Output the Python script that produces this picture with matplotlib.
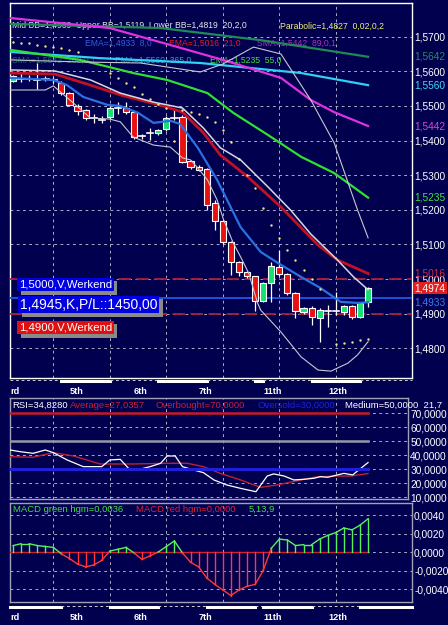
import numpy as np
import matplotlib
matplotlib.use("Agg")
import matplotlib.pyplot as plt
import matplotlib.transforms as mtransforms
import matplotlib.patheffects as pe
from matplotlib.patches import Rectangle
from matplotlib.lines import Line2D

plt.rcParams['font.family'] = ['Liberation Sans', 'DejaVu Sans']
plt.rcParams['lines.scale_dashes'] = False

# ---------------- data ----------------
opens  = [1.5572, 1.5578, 1.5580, 1.5575, 1.5578, 1.5576, 1.5565, 1.5537, 1.5500, 1.5488,
          1.5466, 1.5460, 1.5468, 1.5494, 1.5494, 1.5482, 1.5413, 1.5422, 1.5422, 1.5433,
          1.5465, 1.5468, 1.5341, 1.5324, 1.5318, 1.5219, 1.5168, 1.5107, 1.5049, 1.5020,
          1.5008, 1.4936, 1.4988, 1.5034, 1.5014, 1.4960, 1.4905, 1.4916, 1.4887, 1.4910,
          1.4910, 1.4905, 1.4922, 1.4890, 1.4934]
highs  = [1.5590, 1.5595, 1.5588, 1.5624, 1.5586, 1.5584, 1.5572, 1.5540, 1.5505, 1.5492,
          1.5478, 1.5470, 1.5500, 1.5512, 1.5510, 1.5486, 1.5420, 1.5436, 1.5432, 1.5470,
          1.5488, 1.5475, 1.5344, 1.5330, 1.5320, 1.5228, 1.5170, 1.5110, 1.5052, 1.5024,
          1.5010, 1.4992, 1.5049, 1.5084, 1.5016, 1.4962, 1.4920, 1.4922, 1.4916, 1.4925,
          1.4963, 1.4925, 1.4925, 1.4934, 1.4976]
lows   = [1.5569, 1.5569, 1.5572, 1.5550, 1.5572, 1.5566, 1.5532, 1.5500, 1.5474, 1.5460,
          1.5452, 1.5450, 1.5462, 1.5478, 1.5478, 1.5404, 1.5404, 1.5402, 1.5416, 1.5428,
          1.5459, 1.5336, 1.5318, 1.5312, 1.5199, 1.5142, 1.5100, 1.5011, 1.5010, 1.5002,
          1.4908, 1.4934, 1.4934, 1.5010, 1.4955, 1.4887, 1.4900, 1.4867, 1.4818, 1.4862,
          1.4895, 1.4895, 1.4885, 1.4887, 1.4920]
closes = [1.5586, 1.5579, 1.5578, 1.5576, 1.5577, 1.5575, 1.5537, 1.5503, 1.5485, 1.5465,
          1.5465, 1.5459, 1.5494, 1.5493, 1.5482, 1.5410, 1.5412, 1.5421, 1.5430, 1.5465,
          1.5464, 1.5338, 1.5324, 1.5315, 1.5214, 1.5168, 1.5107, 1.5049, 1.5020, 1.5008,
          1.4936, 1.4988, 1.5037, 1.5014, 1.4960, 1.4908, 1.4916, 1.4890, 1.4910, 1.4909,
          1.4909, 1.4922, 1.4890, 1.4931, 1.4974]

nan = np.nan
sar = [1.5685, 1.5682, 1.5682, 1.5676, 1.5673, 1.5670, 1.5667, 1.5662, 1.5656, nan,
       nan, nan, 1.5595, 1.5581, 1.5566, 1.5555, 1.5534, 1.5520, 1.5506, 1.5494,
       1.5399, 1.5488, 1.5482, 1.5477, 1.5468, 1.5454, 1.5430, 1.5396, 1.5347, 1.5301,
       1.5263, 1.5205, 1.5156, 1.5119, 1.5084, 1.5055, 1.5026, 1.5000, 1.4971, nan,
       1.4812, 1.4815, 1.4819, 1.4823, 1.4827]

ema8_x = [-0.37, 5.0, 6.7, 8.7, 11.7, 13.3, 15.5, 17.4, 19.5, 20.7, 22.9, 25.3, 28.2, 30.7,
          33.2, 35.7, 38.1, 40.6, 42.7, 44.0]
ema8_y = [1.5581, 1.5575, 1.5560, 1.5526, 1.5503, 1.5500, 1.5480, 1.5451, 1.5457, 1.5448,
          1.5379, 1.5286, 1.5150, 1.5078, 1.5041, 1.5006, 1.4974, 1.4934, 1.4931, 1.4933]

ema21_x = [-0.37, 5.2, 9.6, 13.3, 18.6, 21.0, 23.6, 25.7, 29.1, 33.2, 37.8, 40.2, 44.0]
ema21_y = [1.5595, 1.5592, 1.5560, 1.5532, 1.5500, 1.5482, 1.5422, 1.5358, 1.5295, 1.5208,
           1.5098, 1.5055, 1.5016]

bbmid_x = [-0.37, 5.2, 9.6, 13.3, 17.4, 21.0, 23.6, 25.7, 28.2, 31.6, 34.4, 36.9, 40.2, 42.2, 44.0]
bbmid_y = [1.5604, 1.5601, 1.5575, 1.5537, 1.5511, 1.5494, 1.5436, 1.5379, 1.5344, 1.5266,
           1.5199, 1.5130, 1.5055, 1.5006, 1.4969]

bbup_x = [-0.37, 8.3, 15.8, 23.2, 26.0, 29.8, 33.2, 36.9, 39.8, 42.7, 44.0]
bbup_y = [1.5633, 1.5627, 1.5624, 1.5598, 1.5621, 1.5670, 1.5650, 1.5517, 1.5393, 1.5199, 1.5119]

bblow_x = [-0.37, 4.0, 5.0, 7.5, 9.6, 12.0, 13.3, 14.9, 17.4, 19.5, 21.0, 22.0, 22.9, 24.1,
           25.3, 26.1, 27.3, 28.4, 29.2, 30.3, 30.7, 33.2, 35.7, 37.8, 39.4, 41.5, 42.7, 44.0]
bblow_y = [1.5546, 1.5546, 1.5558, 1.5508, 1.5465, 1.5462, 1.5454, 1.5410, 1.5387, 1.5381,
           1.5350, 1.5344, 1.5321, 1.5286, 1.5228, 1.5171, 1.5104, 1.5055, 1.5017, 1.4931,
           1.4910, 1.4847, 1.4775, 1.4737, 1.4734, 1.4757, 1.4781, 1.4819]

sma89_x = [-0.37, 12.0, 19.5, 26.0, 33.2, 36.9, 39.8, 44.0]
sma89_y = [1.5754, 1.5725, 1.5676, 1.5633, 1.5581, 1.5517, 1.5482, 1.5442]

sma200_x = [-0.37, 18.3, 30.7, 44.0]
sma200_y = [1.5737, 1.5725, 1.5690, 1.5642]

ema365_x = [-0.37, 10.8, 23.2, 35.7, 44.0]
ema365_y = [1.5656, 1.5638, 1.5624, 1.5595, 1.5560]

ema55_x = [-0.37, 8.3, 14.9, 19.1, 24.1, 27.3, 31.6, 35.7, 39.8, 44.0]
ema55_y = [1.5662, 1.5633, 1.5595, 1.5575, 1.5537, 1.5480, 1.5416, 1.5353, 1.5306, 1.5235]

rsi_x = [-0.37, 0.87, 2.5, 4.0, 5.0, 6.7, 8.7, 11.0, 12.0, 13.3, 14.5, 15.8, 17.0, 18.3,
         19.1, 20.1, 21.0, 22.4, 23.6, 24.9, 26.5, 28.2, 30.1, 31.5, 32.3, 33.6, 34.8,
         36.1, 37.3, 38.1, 39.0, 41.0, 42.1, 43.1, 44.0]
rsi_y = [43.8, 42.6, 41.4, 43.8, 41.9, 36.7, 31.9, 31.9, 36.7, 37.1, 29.5, 30.2, 31.9, 34.3,
         39.5, 39.5, 31.9, 29.5, 27.6, 22.4, 18.8, 16.4, 14.0, 25.2, 26.7, 25.2, 22.4,
         22.9, 23.6, 24.8, 24.3, 27.1, 26.0, 30.7, 34.8]

rsiavg_x = [-0.37, 2.5, 5.0, 7.5, 10.8, 14.9, 19.1, 21.6, 23.6, 25.7, 28.2, 30.7, 32.7,
            35.7, 37.3, 39.8, 41.9, 44.0]
rsiavg_y = [39.0, 38.6, 41.9, 39.5, 33.8, 33.8, 34.3, 34.3, 31.9, 27.1, 22.4, 17.1, 18.8,
            22.4, 24.3, 25.2, 25.2, 27.0]

macd_hist = [0.0007, 0.0009, 0.0009, 0.0007, 0.0006, 0.0005, -0.0002, -0.0007, -0.0013,
             -0.0016, -0.0014, -0.0009, 0.0001, 0.0003, 0.0005, -0.0001, -0.0008, -0.0004,
             0.0000, 0.0006, 0.0012, -0.0001, -0.0011, -0.0016, -0.0028, -0.0035, -0.0041,
             -0.0047, -0.0041, -0.0037, -0.0035, -0.0020, 0.0004, 0.0014, 0.0013, 0.0007,
             0.0008, 0.0008, 0.0014, 0.0018, 0.0021, 0.0026, 0.0024, 0.0029, 0.0036]

price_ticks = [1.48, 1.49, 1.50, 1.51, 1.52, 1.53, 1.54, 1.55, 1.56, 1.57]
rsi_ticks = [10, 20, 30, 40, 50, 60, 70]
macd_ticks = [-0.004, -0.002, 0.0, 0.002, 0.004]
date_labels = ['rd', '5th', '6th', '7th', '11th', '12th']
date_pos = [-0.37, 7.9, 15.8, 23.9, 32.2, 40.3]
grid_x = [5, 12, 19, 26, 33, 40]
day_bounds = [-0.37, 6, 12, 18, 24, 30, 31, 37, 43, 49.44]

order_levels = [1.5000, 1.4900]
entry_level = 1.4945

# ---------------- figure ----------------
W, H = 448, 625
BG = '#00004f'
fig = plt.figure(figsize=(W / 100, H / 100), dpi=100, facecolor=BG)


def pax(l, t, r, b):
    return fig.add_axes([l / W, 1 - b / H, (r - l) / W, (b - t) / H])


GRID = dict(color='#c8c8d8', lw=0.6, ls=(0, (2, 2.5)))


def style(ax, edge):
    ax.set_facecolor(BG)
    for s in ax.spines.values():
        s.set_color(edge)
        s.set_linewidth(1.0)
    ax.yaxis.tick_right()
    ax.tick_params(axis='both', length=0, colors='white', labelsize=7.3, pad=1.5)
    ax.set_xticks(grid_x)
    ax.set_xticklabels([])
    ax.grid(True, **GRID)
    ax.set_axisbelow(True)


def fmt(v, d=4):
    return f"{v:.{d}f}".replace('.', ',')


# ---------- main panel ----------
ax = pax(10, 3, 412, 378)
style(ax, 'white')
ax.set_xlim(-0.372, 49.44)
ax.set_ylim(1.47141, 1.57973)
ax.set_yticks(price_ticks)
ax.set_yticklabels([fmt(v) for v in price_ticks])

# order lines
for lv in order_levels:
    ax.axhline(lv, color='#a8203c', lw=1.3, ls=(0, (9, 4)), zorder=3)
ax.axhline(entry_level, color='#2050d8', lw=1.4, zorder=3)

# candles
for i, (o, h, l, c) in enumerate(zip(opens, highs, lows, closes)):
    ax.plot([i, i], [l, h], color='white', lw=0.9, zorder=4, solid_capstyle='butt')
    if abs(c - o) < 0.00025:
        ax.plot([i - 0.4, i + 0.4], [c, c], color='white', lw=1.2, zorder=5)
    else:
        col = '#18e070' if c > o else '#e81010'
        ax.add_patch(Rectangle((i - 0.38, min(o, c)), 0.76, abs(c - o), facecolor=col,
                               edgecolor='white', lw=0.8, zorder=5))

# indicators
ax.plot(sma200_x, sma200_y, color='#1f8a55', lw=1.6, zorder=6)
ax.plot(ema365_x, ema365_y, color='#30d0f0', lw=1.6, zorder=6)
ax.plot(ema55_x, ema55_y, color='#30e030', lw=1.6, zorder=6)
ax.plot(sma89_x, sma89_y, color='#e030e0', lw=1.6, zorder=6)
ax.plot(bbup_x, bbup_y, color='#c8c8d0', lw=0.8, zorder=6)
ax.plot(bblow_x, bblow_y, color='#c8c8d0', lw=0.8, zorder=6)
ax.plot(ema21_x, ema21_y, color='#c41024', lw=2.0, zorder=6)
ax.plot(bbmid_x, bbmid_y, color='#d8d8e0', lw=1.1, zorder=6)
ax.plot(ema8_x, ema8_y, color='#2a70e0', lw=1.6, zorder=6)
ax.scatter(np.arange(len(sar)), sar, s=3, color='#f0e68c', zorder=7, linewidths=0)

# header texts (axes pixel offsets)
def htxt(xpx, ypx, s, col, fs=6.2):
    ax.text((xpx - 10) / 402, 1 - (ypx - 3) / 375, s, transform=ax.transAxes, color=col,
            fontsize=fs, va='center', ha='left', zorder=2)

htxt(12, 26, 'Mid BB=1,4969  Upper BB=1,5119  Lower BB=1,4819  20,2,0', '#e8e8e8')
htxt(280, 26, 'Parabolic=1,4827  0,02,0,2', '#f0f070')
htxt(85, 43, 'EMA=1,4933  8,0', '#3060e0')
htxt(169, 43, 'EMA=1,5016  21,0', '#e02020')
htxt(257, 43, 'SMA=1,5442  89,0,1', '#b030c0')
htxt(12, 60, 'SMA=1,5642  200,0,1', '#1e6a60')
htxt(115, 60, 'EMA=1,5560  365,0', '#20a0c8')
htxt(210, 60, 'EMA=1,5235  55,0', '#40e040')

# right colored price tags
ytr = ax.get_yaxis_transform()
tags = [(1.5642, '#2a8a5a'), (1.5560, '#40d8f8'), (1.5442, '#e040e0'),
        (1.5235, '#40e040'), (1.5016, '#c83040'), (1.4933, '#3a78f0')]
for v, c in tags:
    ax.text(1.005, v, fmt(v), transform=ytr, color=c, fontsize=7.3, va='center', ha='left',
            clip_on=False, zorder=10)
ax.text(1.006, 1.4974, fmt(1.4974), transform=ytr, color='white', fontsize=7.3, va='center',
        ha='left', clip_on=False, zorder=11,
        bbox=dict(facecolor='#e02020', edgecolor='none', pad=1.0))

# left order tags with drop shadow
def tag(xpx, ypx, s, fc, fs):
    t = fig.text(xpx / W, 1 - ypx / H, s, color='white', fontsize=fs, va='center', ha='left',
                 bbox=dict(facecolor=fc, edgecolor='none', pad=1.2), zorder=21)
    t.get_bbox_patch().set_path_effects([
        pe.SimplePatchShadow(offset=(2.4, -2.4), shadow_rgbFace='#8a8a8a', alpha=1.0),
        pe.Normal()])

tag(19, 284.5, '1,5000,V,Werkend', '#0000e0', 8.2)
tag(20, 304.5, '1,4945,K,P/L::1450,00', '#0000e0', 10)
tag(19, 327.5, '1,4900,V,Werkend', '#e01010', 8.2)

# ---------- RSI panel ----------
ax2 = pax(10, 398, 408, 499)
style(ax2, '#a0a0b8')
ax2.set_xlim(-0.372, 48.95)
ax2.set_ylim(8.8, 80.9)
ax2.set_yticks(rsi_ticks)
ax2.set_yticklabels([fmt(v) for v in rsi_ticks])
ax2.plot([-0.372, 44], [70, 70], color='#c81828', lw=1.8, zorder=3)
ax2.plot([-0.372, 44], [50, 50], color='#9898a8', lw=1.8, zorder=3)
ax2.plot(rsiavg_x, rsiavg_y, color='#c02030', lw=1.0, zorder=4)
ax2.plot(rsi_x, rsi_y, color='white', lw=0.9, zorder=4)
ax2.plot([-0.372, 44], [30, 30], color='#2020d8', lw=2.2, zorder=5)
rx = [(12, 'RSI=34,8280', 'white'), (70, 'Average=27,0357', '#c82030'),
      (156, 'Overbought=70,0000', '#c82030'), (258, 'Oversold=30,0000', '#2020e0'),
      (345, 'Medium=50,0000  21,7', 'white')]
for xpx, s, c in rx:
    fig.text(xpx / W, 1 - 405 / H, s, color=c, fontsize=6.8, va='center', ha='left')

# ---------- MACD panel ----------
ax3 = pax(10, 503, 412, 602)
style(ax3, '#a0a0b8')
ax3.set_xlim(-0.372, 49.44)
ax3.set_ylim(-0.0054, 0.0053)
ax3.set_yticks(macd_ticks)
ax3.set_yticklabels([fmt(v) for v in macd_ticks])
ax3.plot([-0.372, 44], [0, 0], color='#d02030', lw=1.0, zorder=3)
mi = np.arange(len(macd_hist))
mh = np.array(macd_hist)
GREEN, RED = '#58f058', '#ff3838'
for i, v in zip(mi, mh):
    ax3.plot([i, i], [0, v], color=GREEN if v >= 0 else RED, lw=1.0, zorder=4)
for i in range(len(mh) - 1):
    c = GREEN if (mh[i] + mh[i + 1]) >= 0 else RED
    ax3.plot([mi[i], mi[i + 1]], [mh[i], mh[i + 1]], color=c, lw=1.0, zorder=4)
mx = [(13, 'MACD green hgm=0,0036', '#40e040'), (136, 'MACD red hgm=0,0000', '#e02030'),
      (249, '5,13,9', '#40e040')]
for xpx, s, c in mx:
    fig.text(xpx / W, 1 - 509 / H, s, color=c, fontsize=6.8, va='center', ha='left')

# ---------- time strips and date labels ----------
def strips(axref, ypx, white_first):
    tr = mtransforms.blended_transform_factory(axref.transData, fig.transFigure)
    yf = 1 - ypx / H
    for k in range(len(day_bounds) - 1):
        a, b = day_bounds[k], day_bounds[k + 1]
        solid = (k % 2 == 0) == white_first
        if solid:
            fig.add_artist(Line2D([a, b], [yf, yf], transform=tr, color='white', lw=2.2))
        else:
            fig.add_artist(Line2D([a, b], [yf + 1 / H, yf + 1 / H], transform=tr,
                                  color='#d0d0d0', lw=0.7, ls=(0, (2, 2))))
    for lab, p in zip(date_labels, date_pos):
        fig.text(p, 1 - (ypx + 10) / H, lab, transform=tr, color='white', fontsize=6.6,
                 fontweight='bold', va='center', ha='left' if lab == 'rd' else 'center')

strips(ax, 381, False)
strips(ax3, 607, True)

fig.savefig('out.png', dpi=100, facecolor=BG)
